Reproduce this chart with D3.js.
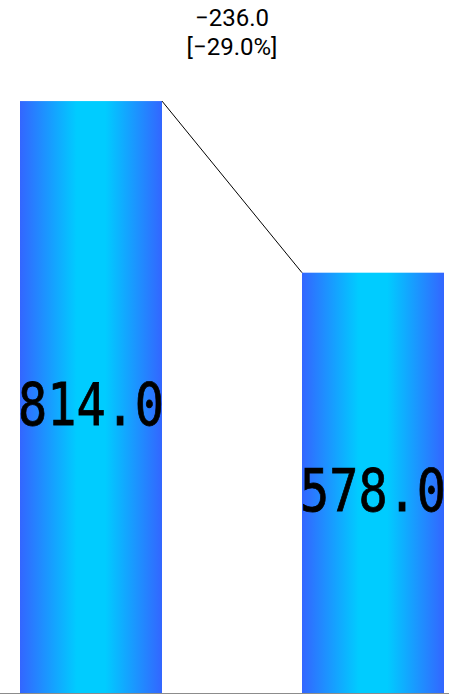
<!DOCTYPE html>
<html>
<head>
<meta charset="utf-8">
<script src="https://cdn.jsdelivr.net/npm/d3@7"></script>
<style>
body { margin: 0; background: #fff; }
</style>
</head>
<body>
<script>
var categories = ["A", "B"];
var values = [814.0, 578.0];
var diffLabel = ["\u2212236.0", "[\u221229.0%]"];

var width = 449, height = 695;
var m = [0, 5, 1, 20]; //top right bottom left

var svg = d3.select("body").append("svg")
    .attr("width", width)
    .attr("height", height);

var defs = svg.append("defs");
var grad = defs.append("linearGradient")
    .attr("id", "barGrad")
    .attr("x1", "0%").attr("x2", "100%")
    .attr("y1", "0%").attr("y2", "0%");
[[0, "#3366ff"], [0.4, "#00ccff"], [0.6, "#00ccff"], [1, "#3366ff"]].forEach(function (s) {
    grad.append("stop").attr("offset", s[0]).attr("stop-color", s[1]);
});

var x = d3.scaleBand()
    .domain(categories)
    .range([m[3], width - m[1]])
    .paddingInner(140 / 282)
    .paddingOuter(0);

var y = d3.scaleLinear()
    .domain([0, 953])
    .range([693, 0]);

svg.append("g").selectAll("rect")
    .data(values)
    .enter().append("rect")
    .attr("x", function (d, i) { return x(categories[i]); })
    .attr("y", function (d) { return y(d); })
    .attr("width", x.bandwidth())
    .attr("height", function (d) { return y(0) - y(d); })
    .attr("fill", "url(#barGrad)");

// connector line
svg.append("line")
    .attr("x1", x(categories[0]) + x.bandwidth())
    .attr("y1", y(values[0]))
    .attr("x2", x(categories[1]))
    .attr("y2", y(values[1]))
    .attr("stroke", "#000")
    .attr("stroke-width", 1);

// baseline
svg.append("line")
    .attr("x1", 0).attr("x2", width)
    .attr("y1", y(0) + 0.5).attr("y2", y(0) + 0.5)
    .attr("stroke", "#000")
    .attr("stroke-opacity", 0.45)
    .attr("stroke-width", 1);

// value labels (condensed mono look, squeezed horizontally)
svg.append("g").selectAll("text")
    .data(values)
    .enter().append("text")
    .text(function (d) { return d.toFixed(1); })
    .attr("text-anchor", "middle")
    .style("font-family", "'DejaVu Sans Mono'")
    .style("font-size", "59px")
    .attr("fill", "#000")
    .attr("stroke", "#000")
    .attr("stroke-width", 0.8)
    .attr("transform", function (d, i) {
        var sx = 146 / this.getComputedTextLength();
        var cx = x(categories[i]) + x.bandwidth() / 2;
        var cy = (y(d) + y(0)) / 2 + 28;
        return "translate(" + cx + "," + cy + ") scale(" + sx + ",1)";
    });

// difference label
var cx = (x(categories[0]) + x.bandwidth() + x(categories[1])) / 2;
svg.append("g").selectAll("text")
    .data(diffLabel)
    .enter().append("text")
    .text(function (d) { return d; })
    .attr("x", cx)
    .attr("y", function (d, i) { return 26 + i * 29; })
    .attr("text-anchor", "middle")
    .style("font-family", "Roboto")
    .style("font-size", "24px")
    .attr("fill", "#000");
</script>
</body>
</html>
